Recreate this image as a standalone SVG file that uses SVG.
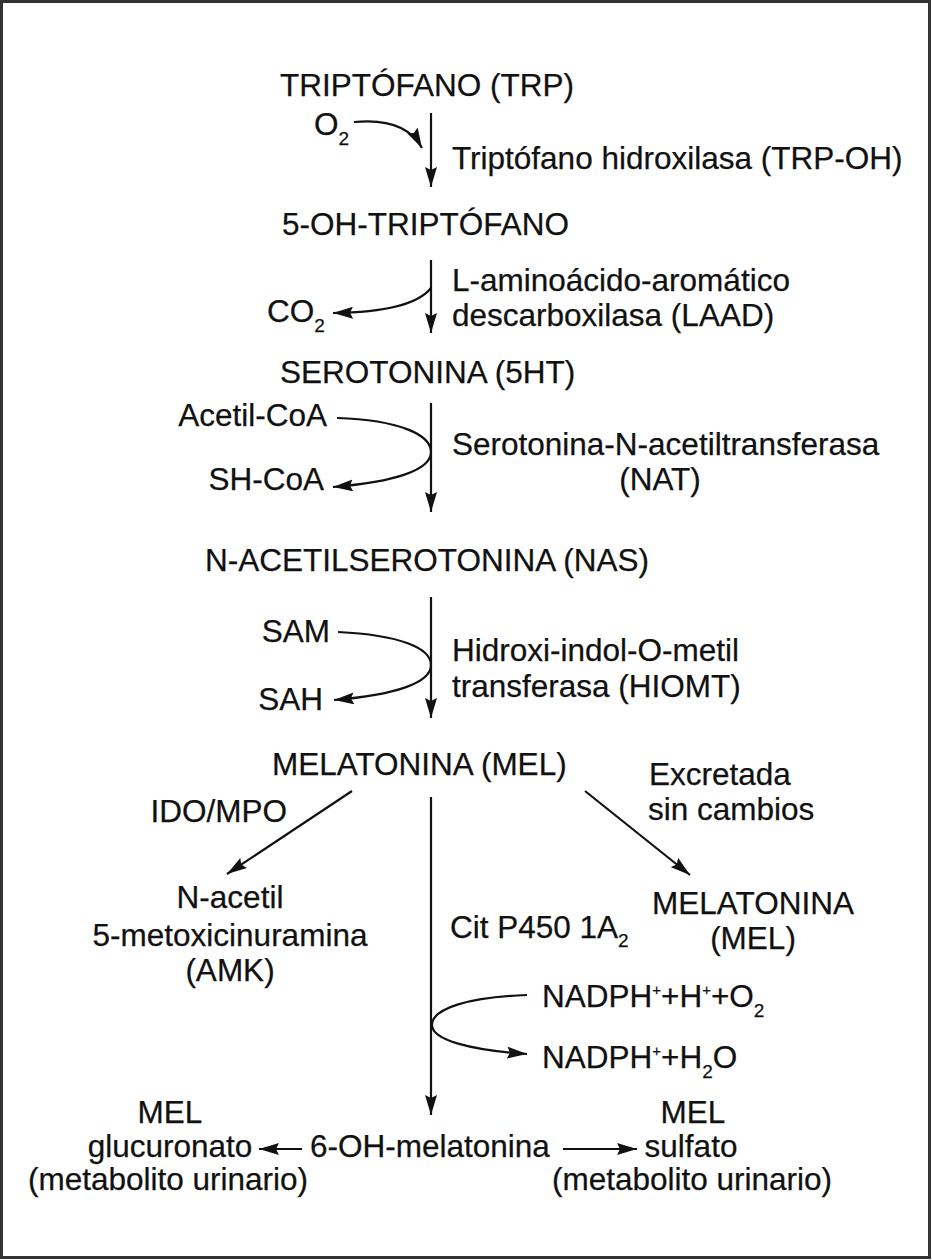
<svg xmlns="http://www.w3.org/2000/svg" width="932" height="1260" viewBox="0 0 932 1260">
<style>
text{font-family:"Liberation Sans",Arial,Helvetica,sans-serif;font-size:31.5px;fill:#111;stroke:#111;stroke-width:0.25}
.s{font-size:19px}
.p{font-size:15px}
.m{text-anchor:middle}
.e{text-anchor:end}
.c{fill:none;stroke:#111;stroke-width:2.2}
</style>
<defs>
<marker id="ah" markerUnits="userSpaceOnUse" markerWidth="21" markerHeight="12" refX="20" refY="6" orient="auto">
<path d="M0,0 L20,6 L0,12 L3,6 z" fill="#111"/>
</marker>
</defs>
<rect x="1.5" y="1.5" width="928" height="1256" fill="#fff" stroke="#333" stroke-width="3"/>
<g id="connectors">
<path class="c" d="M431,113 V187" marker-end="url(#ah)"/>
<path class="c" d="M354,122 Q405,117 422,148" marker-end="url(#ah)"/>
<path class="c" d="M431,260 V333" marker-end="url(#ah)"/>
<path class="c" d="M431,288 Q412,312 333,313" marker-end="url(#ah)"/>
<path class="c" d="M431,403 V512" marker-end="url(#ah)"/>
<path class="c" d="M337,418 C400,420 431,435 431,452 C431,470 395,482 333,487" marker-end="url(#ah)"/>
<path class="c" d="M431,597 V718" marker-end="url(#ah)"/>
<path class="c" d="M338,632 C400,635 431,648 431,665 C431,683 395,695 334,700" marker-end="url(#ah)"/>
<path class="c" d="M431,797 V1115" marker-end="url(#ah)"/>
<path class="c" d="M352,791 L227,874" marker-end="url(#ah)"/>
<path class="c" d="M585,791 L690,875" marker-end="url(#ah)"/>
<path class="c" d="M527,995 C470,997 432,1008 432,1025 C432,1040 470,1050 527,1054" marker-end="url(#ah)"/>
<path class="c" d="M302,1149 H259" marker-end="url(#ah)"/>
<path class="c" d="M563,1149 H637" marker-end="url(#ah)"/>
</g>
<g id="trp"><text x="280" y="96">TRIPTÓFANO (TRP)</text></g>
<g id="o2"><text x="314" y="135">O<tspan class="s" dy="10">2</tspan></text></g>
<g id="trpoh"><text x="452" y="169">Triptófano hidroxilasa (TRP-OH)</text></g>
<g id="ohtrp"><text x="282" y="235">5-OH-TRIPTÓFANO</text></g>
<g id="laad"><text x="452" y="291">L-aminoácido-aromático</text><text x="452" y="326">descarboxilasa (LAAD)</text></g>
<g id="co2"><text x="267" y="322">CO<tspan class="s" dy="10">2</tspan></text></g>
<g id="ht"><text x="280" y="383">SEROTONINA (5HT)</text></g>
<g id="acetilcoa"><text class="e" x="327" y="426">Acetil-CoA</text></g>
<g id="shcoa"><text class="e" x="324" y="490">SH-CoA</text></g>
<g id="nat"><text x="452" y="455">Serotonina-N-acetiltransferasa</text><text class="m" x="660" y="490">(NAT)</text></g>
<g id="nas"><text x="205" y="571">N-ACETILSEROTONINA (NAS)</text></g>
<g id="sam"><text class="e" x="330" y="642">SAM</text></g>
<g id="sah"><text class="e" x="323" y="710">SAH</text></g>
<g id="hiomt"><text x="452" y="661">Hidroxi-indol-O-metil</text><text x="452" y="697">transferasa (HIOMT)</text></g>
<g id="mel"><text x="272" y="775">MELATONINA (MEL)</text></g>
<g id="excretada"><text x="649" y="785">Excretada</text><text x="648" y="820">sin cambios</text></g>
<g id="idompo"><text class="e" x="287" y="822">IDO/MPO</text></g>
<g id="amk"><text class="m" x="230" y="908">N-acetil</text><text class="m" x="230" y="946">5-metoxicinuramina</text><text class="m" x="230" y="981">(AMK)</text></g>
<g id="cyp"><text x="450" y="938">Cit P450 1A<tspan class="s" dy="9">2</tspan></text></g>
<g id="mel2"><text class="m" x="753" y="914">MELATONINA</text><text class="m" x="753" y="949">(MEL)</text></g>
<g id="nadph1"><text x="542" y="1007">NADPH<tspan class="p" dy="-12">+</tspan><tspan dy="12">+H</tspan><tspan class="p" dy="-12">+</tspan><tspan dy="12">+O</tspan><tspan class="s" dy="10">2</tspan></text></g>
<g id="nadph2"><text x="542" y="1068">NADPH<tspan class="p" dy="-12">+</tspan><tspan dy="12">+H</tspan><tspan class="s" dy="10">2</tspan><tspan dy="-10">O</tspan></text></g>
<g id="gluc"><text class="m" x="170" y="1123">MEL</text><text class="m" x="170" y="1157">glucuronato</text><text class="m" x="168" y="1190">(metabolito urinario)</text></g>
<g id="ohmel"><text x="310" y="1157">6-OH-melatonina</text></g>
<g id="sulf"><text class="m" x="693" y="1123">MEL</text><text class="m" x="691" y="1157">sulfato</text><text class="m" x="692" y="1190">(metabolito urinario)</text></g>
</svg>
